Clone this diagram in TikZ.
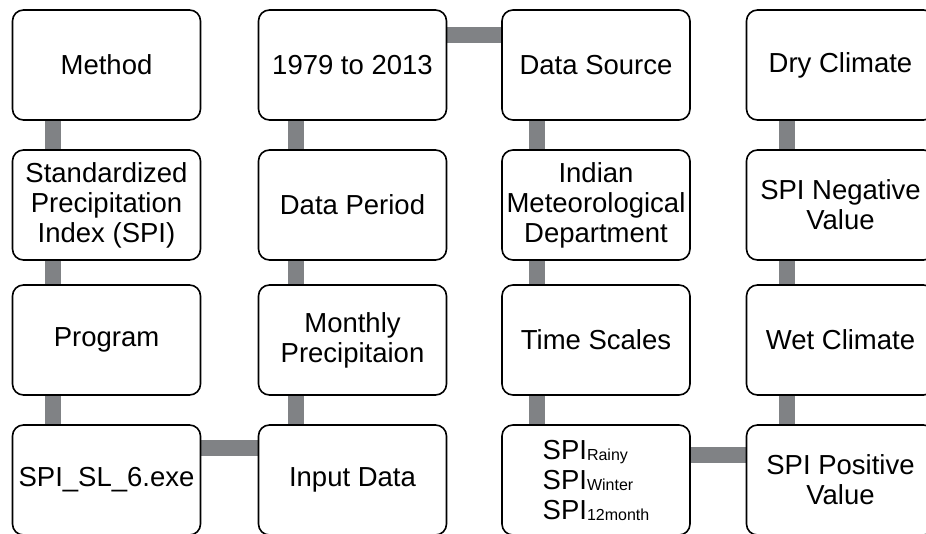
\documentclass[tikz,border=0pt]{standalone}
\usepackage{fontspec}
\setmainfont{Liberation Sans}
\usetikzlibrary{backgrounds}
\definecolor{bargray}{RGB}{128,130,133}
\newcommand{\spisub}[1]{SPI\raisebox{-1pt}{\fontsize{16}{16}\selectfont #1}}
\tikzset{
  blk/.style={draw=black, line width=1.6pt, fill=white, rounded corners=11pt,
    minimum width=188pt, minimum height=110pt, inner sep=1pt, align=center,
    font=\fontsize{27.5}{30}\selectfont},
  bar/.style={draw=bargray, line width=16pt}
}
\begin{document}
\begin{tikzpicture}[x=1pt,y=1pt]
	\useasboundingbox (0,-533) rectangle (926,0);
	\clip (0,-533) rectangle (926,0);
	% column 1
	\node[blk] (method) at (106.5,-65) {Method};
	\node[blk] (spi) at (106.5,-205) {Standardized\\Precipitation\\Index (SPI)};
	\node[blk] (program) at (106.5,-340) {Program};
	\node[blk] (exe) at (106.5,-480) {SPI\_SL\_6.exe};
	% column 2
	\node[blk] (period) at (352.5,-65) {1979 to 2013};
	\node[blk] (dataperiod) at (352.5,-205) {Data Period};
	\node[blk] (monthly) at (352.5,-340) {Monthly\\Precipitaion};
	\node[blk] (input) at (352.5,-480) {Input Data};
	% column 3
	\node[blk] (source) at (596,-65) {Data Source};
	\node[blk] (imd) at (596,-205) {Indian\\Meteorological\\Department};
	\node[blk] (scales) at (596,-340) {Time Scales};
	\node[blk, align=left] (spis) at (596,-480) {\spisub{Rainy}\\\spisub{Winter}\\\spisub{12month}};
	% column 4
	\node[blk] (dry) at (840.5,-65) {Dry Climate};
	\node[blk] (neg) at (840.5,-205) {SPI Negative\\Value};
	\node[blk] (wet) at (840.5,-340) {Wet Climate};
	\node[blk] (pos) at (840.5,-480) {SPI Positive\\Value};
	\begin{scope}[on background layer]
	\draw[bar] ([xshift=-54pt]method.south) -- ([xshift=-54pt]spi.north);
	\draw[bar] ([xshift=-54pt]spi.south) -- ([xshift=-54pt]program.north);
	\draw[bar] ([xshift=-54pt]program.south) -- ([xshift=-54pt]exe.north);
	\draw[bar] ([yshift=32pt]exe.east) -- ([yshift=32pt]input.west);
	\draw[bar] ([xshift=-57pt]input.north) -- ([xshift=-57pt]monthly.south);
	\draw[bar] ([xshift=-57pt]monthly.north) -- ([xshift=-57pt]dataperiod.south);
	\draw[bar] ([xshift=-57pt]dataperiod.north) -- ([xshift=-57pt]period.south);
	\draw[bar] ([yshift=30pt]period.east) -- ([yshift=30pt]source.west);
	\draw[bar] ([xshift=-59pt]source.south) -- ([xshift=-59pt]imd.north);
	\draw[bar] ([xshift=-59pt]imd.south) -- ([xshift=-59pt]scales.north);
	\draw[bar] ([xshift=-59pt]scales.south) -- ([xshift=-59pt]spis.north);
	\draw[bar] ([yshift=25pt]spis.east) -- ([yshift=25pt]pos.west);
	\draw[bar] ([xshift=-54pt]pos.north) -- ([xshift=-54pt]wet.south);
	\draw[bar] ([xshift=-54pt]wet.north) -- ([xshift=-54pt]neg.south);
	\draw[bar] ([xshift=-54pt]neg.north) -- ([xshift=-54pt]dry.south);
	\end{scope}
\end{tikzpicture}
\end{document}
